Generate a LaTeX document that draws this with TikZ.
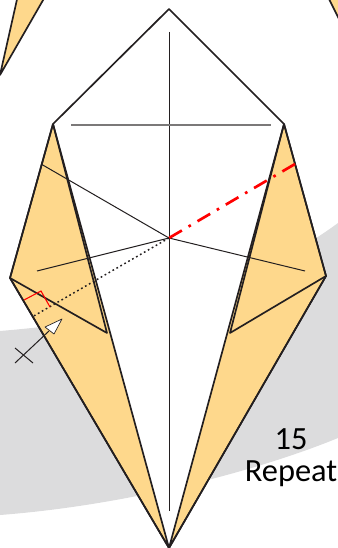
\documentclass[tikz,border=0pt]{standalone}
\usepackage{fontspec}
\setmainfont{Carlito}
\definecolor{fold}{RGB}{254,216,140}
\definecolor{band}{RGB}{220,220,221}
\definecolor{ink}{RGB}{35,31,32}
\tikzset{
 px/.style={x=0.75pt,y=-0.75pt},
 edge/.style={draw=ink,line width=1.25pt,line join=round},
 crease/.style={draw=ink,line width=0.75pt},
 paper/.style={edge,fill=fold},
 label/.style={font=\fontsize{24.3}{24}\selectfont,align=center,text=black,inner sep=0pt}
}
\begin{document}
\begin{tikzpicture}[px]
\useasboundingbox (0,0) rectangle (338,548);
\fill[band] (0,331) .. controls (70,325) and (220,310) .. (338,223) -- (338,438) .. controls (260,470) and (130,505) .. (0,515) -- cycle;
\begin{scope}
\clip (0,0) rectangle (338,548);
\fill[fold,draw=ink,line width=1.25pt,line join=round] (46,-5) -- (0,75) -- (18,-5);
\fill[fold,draw=ink,line width=1.25pt,line join=round] (327,-5) -- (339,19) -- (339,-5);
\end{scope}
\coordinate (T) at (169,9);
\coordinate (LS) at (53,124);
\coordinate (RS) at (284,124);
\coordinate (LC) at (10,278);
\coordinate (RC) at (326,276);
\coordinate (B) at (169,548);
\coordinate (LI) at (107,333);
\coordinate (RI) at (230,333);
\coordinate (C) at (169,238);
\coordinate (RE) at (295,164);
\coordinate (DE) at (32,317);
\fill[white] (T) -- (RS) -- (B) -- (LS) -- cycle;
\path[paper] (LS) -- (LC) -- (B) -- cycle;
\path[paper] (RS) -- (RC) -- (B) -- cycle;
\draw[crease] (169,32) -- (169,511);
\draw[crease,draw=ink!60,line width=0.9pt] (71,125) -- (271,125);
\draw[crease] (37,271) -- (C) -- (305,271);
\draw[crease] (41,164) -- (C);
\draw[edge] (LC) -- (LI) -- (LS);
\draw[edge] (RC) -- (RI) -- (RS);
\draw[edge] (LS) -- (T) -- (RS);
\draw[edge] (LS) -- (LC) -- (B) -- (RC) -- (RS);
\draw[red,line width=2pt,dash pattern=on 11pt off 5.8pt on 2pt off 5.8pt] (RE) -- (C);
\draw[ink,line width=1.1pt,dash pattern=on 1.3pt off 2.1pt] (C) -- (DE);
\draw[red,line width=0.8pt] (24,300) -- (41,291) -- (50,307);
\coordinate (AT) at (62,319);
\coordinate (AL) at (45,327);
\coordinate (AR) at (54,334);
\coordinate (AS) at (15,363);
\draw[ink,line width=0.75pt] (AS) -- (49,331);
\draw[ink,line width=0.75pt] (15,348) -- (33,363);
\draw[ink,fill=white,line width=0.5pt,line join=round] (AT) -- (AL) -- (AR) -- cycle;
\node[label] (lab) at (291,458) {15\\Repeat};
\end{tikzpicture}
\end{document}
